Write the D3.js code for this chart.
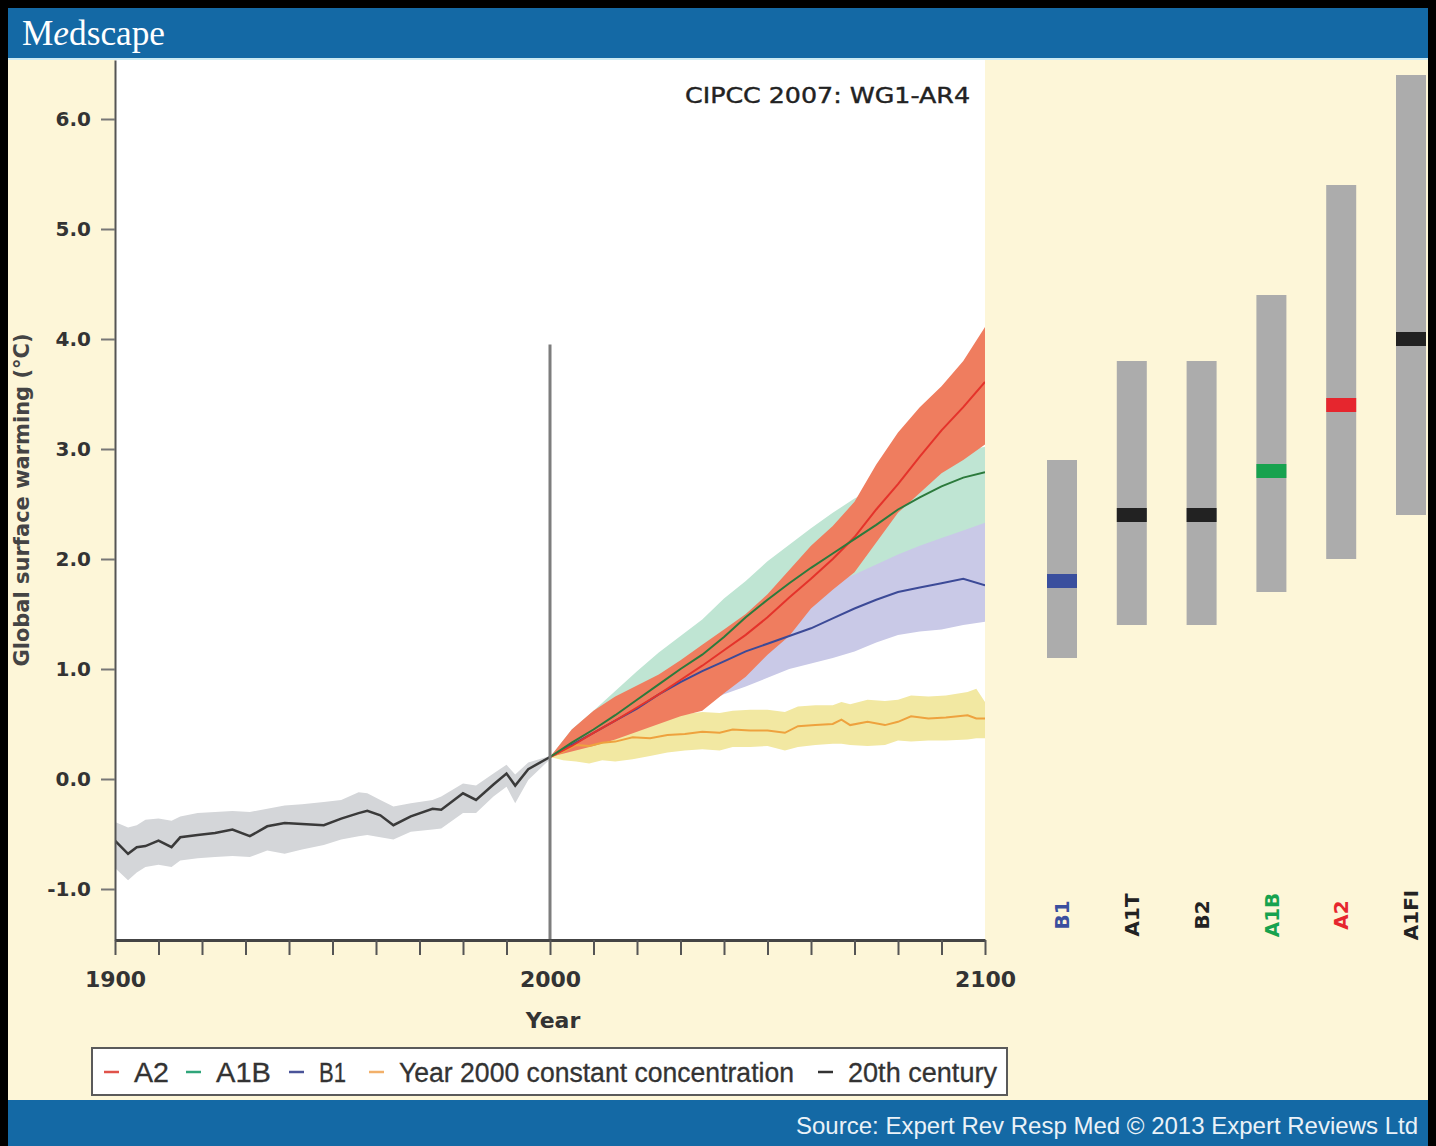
<!DOCTYPE html>
<html><head><meta charset="utf-8">
<script src="https://cdn.jsdelivr.net/npm/d3@7"></script>
<style>html,body{margin:0;padding:0;background:#000;}svg{display:block;}</style>
</head><body>
<svg id="chart" width="1436" height="1146"></svg>
<script>
// ---------- DATA ----------
const histYears = [1900,1903,1905,1907,1910,1913,1915,1919,1923,1927,1931,1935,1939,1943,1948,1952,1956,1958,1961,1964,1968,1973,1975,1980,1983,1987,1990,1992,1995,2000];
const histMean  = [-0.56,-0.68,-0.62,-0.61,-0.56,-0.62,-0.53,-0.51,-0.49,-0.46,-0.52,-0.43,-0.40,-0.41,-0.42,-0.36,-0.31,-0.29,-0.33,-0.42,-0.34,-0.27,-0.28,-0.13,-0.19,-0.05,0.05,-0.06,0.09,0.20];
const histUpper = [-0.39,-0.44,-0.42,-0.37,-0.36,-0.38,-0.34,-0.31,-0.30,-0.29,-0.30,-0.27,-0.24,-0.23,-0.21,-0.19,-0.12,-0.13,-0.19,-0.25,-0.22,-0.19,-0.16,-0.04,-0.06,0.05,0.13,0.04,0.15,0.21];
const histLower = [-0.81,-0.92,-0.85,-0.80,-0.78,-0.80,-0.74,-0.72,-0.71,-0.70,-0.71,-0.65,-0.68,-0.64,-0.60,-0.55,-0.52,-0.51,-0.53,-0.55,-0.48,-0.46,-0.45,-0.31,-0.31,-0.16,-0.07,-0.22,-0.01,0.18];

const projYears = [2000,2005,2010,2015,2020,2025,2030,2035,2040,2045,2050,2055,2060,2065,2070,2075,2080,2085,2090,2095,2100];
const a2Mean  = [0.20,0.30,0.42,0.53,0.65,0.77,0.90,1.03,1.17,1.31,1.47,1.65,1.82,2.00,2.20,2.45,2.68,2.93,3.17,3.38,3.61];
const a2Upper = [0.20,0.45,0.62,0.75,0.85,0.95,1.08,1.22,1.36,1.50,1.68,1.90,2.12,2.30,2.52,2.86,3.15,3.38,3.57,3.80,4.11];
const a2Lower = [0.20,0.25,0.30,0.36,0.43,0.50,0.57,0.62,0.78,0.93,1.13,1.30,1.55,1.72,1.88,2.15,2.42,2.60,2.78,2.90,3.04];
const a1bMean  = [0.20,0.33,0.45,0.58,0.72,0.86,1.00,1.13,1.29,1.47,1.63,1.78,1.92,2.05,2.18,2.31,2.45,2.56,2.66,2.74,2.79];
const a1bUpper = [0.20,0.45,0.62,0.80,0.98,1.15,1.30,1.45,1.64,1.80,1.98,2.13,2.28,2.42,2.55,2.65,2.75,2.84,2.92,2.98,3.02];
const a1bLower = [0.20,0.26,0.32,0.41,0.50,0.59,0.68,0.79,0.90,1.00,1.10,1.22,1.35,1.47,1.60,1.72,1.85,1.95,2.05,2.15,2.25];
const b1Mean  = [0.20,0.31,0.42,0.53,0.64,0.77,0.88,0.98,1.07,1.16,1.23,1.30,1.37,1.46,1.55,1.63,1.70,1.74,1.78,1.82,1.76];
const b1Upper = [0.20,0.33,0.46,0.60,0.73,0.86,1.00,1.12,1.25,1.37,1.48,1.60,1.70,1.78,1.86,1.95,2.04,2.12,2.19,2.26,2.33];
const b1Lower = [0.20,0.28,0.36,0.44,0.52,0.58,0.63,0.68,0.77,0.84,0.92,1.00,1.05,1.10,1.16,1.24,1.31,1.34,1.36,1.40,1.43];

const constYears = [2000,2003,2006,2009,2012,2015,2019,2023,2027,2031,2035,2039,2042,2046,2050,2054,2057,2061,2065,2067,2069,2073,2077,2080,2083,2087,2091,2096,2098,2100];
const constMean  = [0.20,0.25,0.31,0.30,0.33,0.34,0.38,0.37,0.40,0.41,0.43,0.42,0.45,0.44,0.44,0.42,0.48,0.49,0.50,0.54,0.49,0.52,0.49,0.52,0.57,0.55,0.56,0.58,0.55,0.55];
const constUpper = [0.20,0.32,0.40,0.44,0.48,0.50,0.53,0.55,0.57,0.59,0.61,0.60,0.62,0.63,0.63,0.61,0.66,0.67,0.67,0.70,0.68,0.72,0.71,0.72,0.76,0.75,0.76,0.79,0.82,0.70];
const constLower = [0.20,0.17,0.16,0.14,0.17,0.16,0.18,0.21,0.24,0.26,0.27,0.26,0.29,0.29,0.30,0.26,0.29,0.31,0.32,0.32,0.31,0.30,0.31,0.35,0.34,0.35,0.35,0.36,0.37,0.37];

const scenarioNames = ["B1","A1T","B2","A1B","A2","A1FI"];
const scenarioLow   = [1.1,1.4,1.4,1.7,2.0,2.4];
const scenarioHigh  = [2.9,3.8,3.8,4.4,5.4,6.4];
const scenarioBest  = [1.8,2.4,2.4,2.8,3.4,4.0];
const scenarioColors = ["#3a4f9e","#222222","#222222","#17a24e","#e6262e","#222222"];

const yTicks = [-1,0,1,2,3,4,5,6];
const xTicks = [1900,1910,1920,1930,1940,1950,1960,1970,1980,1990,2000,2010,2020,2030,2040,2050,2060,2070,2080,2090,2100];
const xLabelled = [1900,2000,2100];

const legendLabels = ["A2","A1B","B1","Year 2000 constant concentration","20th century"];
const legendColors = ["#e0524a","#2fa57a","#4a5499","#f2b06a","#333333"];

// ---------- LAYOUT ----------
const svg = d3.select("#chart");
const W = 1436, H = 1146;
const blue = "#1469a5";
const cream = "#fdf6d8";
const plotL = 115, plotR = 985, plotT = 60, plotB = 940;
const sans = "'DejaVu Sans', 'Liberation Sans', Arial, sans-serif";

svg.append("rect").attr("width",W).attr("height",H).attr("fill","#000");
const content = svg.append("g");
content.append("clipPath").attr("id","cclip").append("rect").attr("x",8).attr("y",8).attr("width",1420).attr("height",H-8);
const c = content.append("g").attr("clip-path","url(#cclip)");

c.append("rect").attr("x",8).attr("y",8).attr("width",1420).attr("height",H-8).attr("fill",cream);
c.append("rect").attr("x",plotL).attr("y",plotT).attr("width",plotR-plotL).attr("height",plotB-plotT).attr("fill","#ffffff");

// header
c.append("rect").attr("x",8).attr("y",8).attr("width",1420).attr("height",50).attr("fill",blue);
c.append("rect").attr("x",8).attr("y",58).attr("width",1420).attr("height",2).attr("fill","#cdebf3");
const logo = c.append("text").attr("x",22).attr("y",45).attr("fill","#ffffff")
  .attr("font-family","'Liberation Serif','DejaVu Serif',serif").attr("font-size",35)
  .attr("textLength",143).attr("lengthAdjust","spacingAndGlyphs");
logo.append("tspan").text("M");
logo.append("tspan").attr("font-style","italic").text("e");
logo.append("tspan").text("dscape");

// footer
c.append("rect").attr("x",8).attr("y",1100).attr("width",1420).attr("height",46).attr("fill",blue);
c.append("text").attr("x",1418).attr("y",1134).attr("text-anchor","end").attr("fill","#eaf2f8")
  .attr("font-family","'Liberation Sans',Arial,sans-serif").attr("font-size",24)
  .text("Source: Expert Rev Resp Med \u00A9 2013 Expert Reviews Ltd");

// scales
const x = d3.scaleLinear().domain([1900,2100]).range([plotL,plotR]);
const y = d3.scaleLinear().domain([(779-plotB)/110,(779-plotT)/110]).range([plotB,plotT]);

const plot = c.append("g");
plot.append("clipPath").attr("id","pclip").append("rect").attr("x",plotL).attr("y",plotT).attr("width",plotR-plotL).attr("height",plotB-plotT);
const pg = plot.append("g").attr("clip-path","url(#pclip)");

function band(years, lo, hi){
  return d3.area().x((d,i)=>x(years[i])).y0((d,i)=>y(lo[i])).y1((d,i)=>y(hi[i]))(years);
}
function line(years, v){
  return d3.line().x((d,i)=>x(years[i])).y((d,i)=>y(v[i]))(years);
}

pg.append("path").attr("d",band(histYears,histLower,histUpper)).attr("fill","#d4d6d9");
pg.append("path").attr("d",band(constYears,constLower,constUpper)).attr("fill","#f2e8a2");
pg.append("path").attr("d",band(projYears,a1bLower,a1bUpper)).attr("fill","#bfe5d3");
pg.append("path").attr("d",band(projYears,b1Lower,b1Upper)).attr("fill","#c9c9e7");
pg.append("path").attr("d",band(projYears,a2Lower,a2Upper)).attr("fill","#ef7d5f");

pg.append("path").attr("d",line(histYears,histMean)).attr("fill","none").attr("stroke","#3a3a3a").attr("stroke-width",2.5);
pg.append("path").attr("d",line(constYears,constMean)).attr("fill","none").attr("stroke","#eea23e").attr("stroke-width",2);
pg.append("path").attr("d",line(projYears,b1Mean)).attr("fill","none").attr("stroke","#3c4a97").attr("stroke-width",2);
pg.append("path").attr("d",line(projYears,a2Mean)).attr("fill","none").attr("stroke","#e4332b").attr("stroke-width",2);
pg.append("path").attr("d",line(projYears,a1bMean)).attr("fill","none").attr("stroke","#2c7a3c").attr("stroke-width",2);

// vertical line at 2000
plot.append("line").attr("x1",x(2000)).attr("x2",x(2000)).attr("y1",y(3.95)).attr("y2",plotB)
  .attr("stroke","#7d7d7d").attr("stroke-width",3);

// axes
const fmt = d => d3.format(".1f")(d).replace("\u2212","-");
const yAxis = d3.axisLeft(y).tickValues(yTicks).tickFormat(fmt).tickSize(14).tickSizeOuter(0).tickPadding(10);
const gy = plot.append("g").attr("transform",`translate(${plotL},0)`).call(yAxis);
gy.select(".domain").attr("stroke","#555").attr("stroke-width",2);
gy.selectAll(".tick line").attr("stroke","#777").attr("stroke-width",2);
gy.selectAll(".tick text").attr("font-family",sans).attr("font-weight","bold").attr("font-size",20).attr("fill","#333");

const xAxis = d3.axisBottom(x).tickValues(xTicks).tickFormat(d=>xLabelled.includes(d)?String(d):"").tickSize(15).tickSizeOuter(0).tickPadding(16);
const gx = plot.append("g").attr("transform",`translate(0,${plotB})`).call(xAxis);
gx.select(".domain").attr("stroke","#444").attr("stroke-width",3);
gx.selectAll(".tick line").attr("stroke","#555").attr("stroke-width",2);
gx.selectAll(".tick text").attr("font-family",sans).attr("font-weight","bold").attr("font-size",22).attr("fill","#333");

plot.append("text").attr("x",553).attr("y",1028).attr("text-anchor","middle").attr("font-family",sans)
  .attr("font-weight","bold").attr("font-size",22).attr("fill","#333").text("Year");
plot.append("text").attr("transform","translate(29,500) rotate(-90)").attr("text-anchor","middle")
  .attr("font-family",sans).attr("font-weight","bold").attr("font-size",21).attr("fill","#444")
  .text("Global surface warming (\u00B0C)");
plot.append("text").attr("x",685).attr("y",103).attr("font-family",sans).attr("font-size",21)
  .attr("fill","#222").attr("stroke","#222").attr("stroke-width",0.4)
  .attr("textLength",285).attr("lengthAdjust","spacingAndGlyphs").text("CIPCC 2007: WG1-AR4");

// right panel bars
const xb = d3.scalePoint().domain(scenarioNames).range([1062,1411]);
const barW = 30;
const bars = c.append("g");
scenarioNames.forEach((n,i)=>{
  const cx = xb(n);
  bars.append("rect").attr("x",cx-barW/2).attr("y",y(scenarioHigh[i])).attr("width",barW)
    .attr("height",y(scenarioLow[i])-y(scenarioHigh[i])).attr("fill","#acacac");
  bars.append("rect").attr("x",cx-barW/2).attr("y",y(scenarioBest[i])-7).attr("width",barW).attr("height",14)
    .attr("fill",scenarioColors[i]);
  bars.append("text").attr("transform",`translate(${cx},915) rotate(-90)`).attr("text-anchor","middle")
    .attr("dy","0.36em").attr("font-family",sans).attr("font-weight","bold").attr("font-size",20)
    .attr("fill",scenarioColors[i]).text(n);
});

// legend
const lg = c.append("g");
lg.append("rect").attr("x",92).attr("y",1048).attr("width",915).attr("height",47).attr("fill","#fff")
  .attr("stroke","#5a5a5a").attr("stroke-width",2);
const legendTextW = [35,55,27,395,149];
const legendDashX = [104,186,289,369,818];
legendLabels.forEach((lab,i)=>{
  lg.append("line").attr("x1",legendDashX[i]).attr("x2",legendDashX[i]+15).attr("y1",1072).attr("y2",1072)
    .attr("stroke",legendColors[i]).attr("stroke-width",2.5);
  lg.append("text").attr("x",legendDashX[i]+30).attr("y",1082)
    .attr("font-family","'Liberation Sans Narrow','Liberation Sans',Arial,sans-serif").attr("font-size",27)
    .attr("fill","#333").attr("stroke","#333").attr("stroke-width",0.3)
    .attr("textLength",legendTextW[i]).attr("lengthAdjust","spacingAndGlyphs").text(lab);
});
</script>
</body></html>
